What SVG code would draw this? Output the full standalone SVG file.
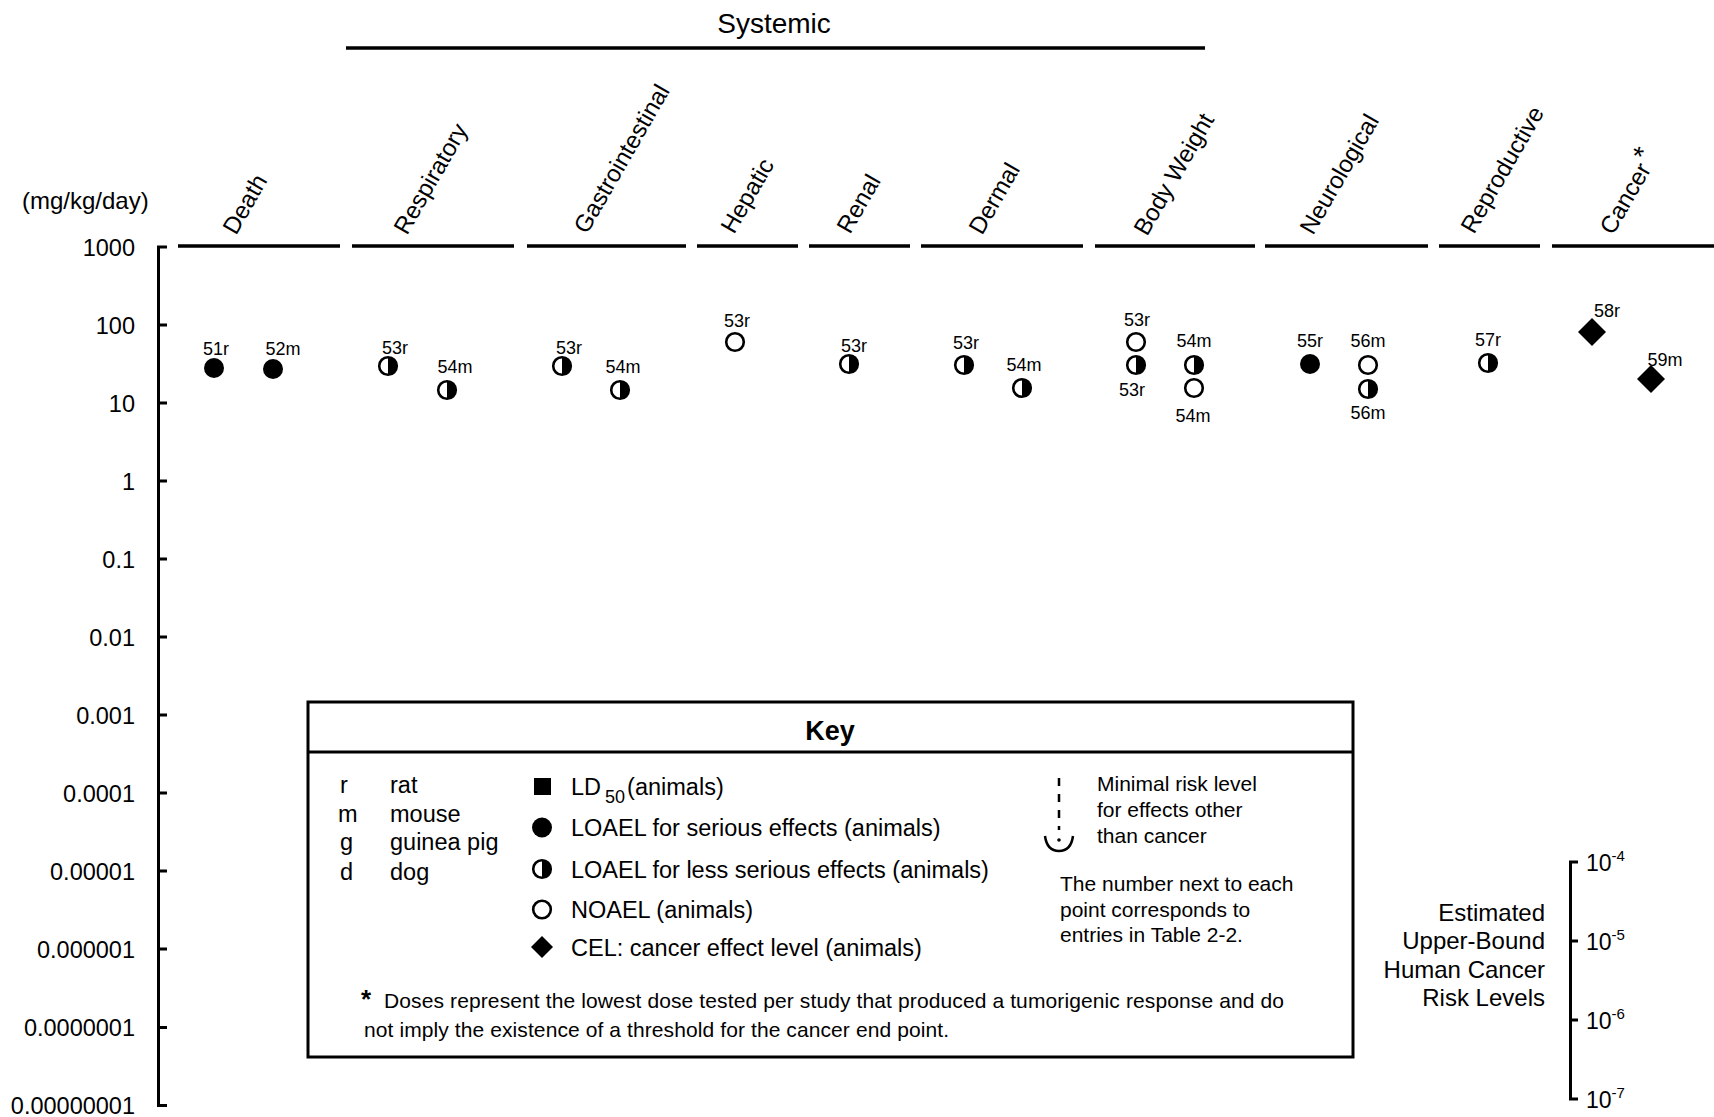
<svg xmlns="http://www.w3.org/2000/svg" xmlns:xlink="http://www.w3.org/1999/xlink" width="1714" height="1117" viewBox="0 0 1714 1117">
<style>
text{font-family:"Liberation Sans",Arial,sans-serif;fill:#000}
.tick{font-size:23.5px;text-anchor:end}
.cat{font-size:24px}
.lbl{font-size:18px;text-anchor:middle}
.key{font-size:23.5px}
.note{font-size:21px}
.ln{stroke:#000;fill:none;stroke-width:3}
.hd{stroke:#000;fill:none;stroke-width:3.5}
</style>
<defs>
<circle id="full" r="10" fill="#000"/>
<circle id="open" r="8.8" fill="#fff" stroke="#000" stroke-width="2.6"/>
<g id="half"><circle r="8.8" fill="#fff" stroke="#000" stroke-width="2.6"/><path d="M0,-8.8 A8.8,8.8 0 0 1 0,8.8 Z" fill="#000"/></g>
<path id="dia" d="M0,-14 L14,0 L0,14 L-14,0 Z" fill="#000"/>
</defs>
<rect width="1714" height="1117" fill="#fff"/>

<g id="systemic">
<text x="774" y="33" font-size="28" text-anchor="middle">Systemic</text>
<line class="hd" x1="346" y1="48" x2="1205" y2="48"/>
</g>

<g id="connectors">
<path class="ln" d="M167,247 H158.5 V1105.5 H167 M158.5,325 H167 M158.5,403 H167 M158.5,481 H167 M158.5,559 H167 M158.5,637 H167 M158.5,715 H167 M158.5,793 H167 M158.5,871 H167 M158.5,949 H167 M158.5,1027.5 H167"/>
<path class="hd" d="M178,246 H340 M352,246 H514 M527,246 H686 M697,246 H798 M809,246 H910 M921,246 H1083 M1095,246 H1255 M1265,246 H1428 M1439,246 H1540 M1552,246 H1714"/>
<path class="ln" d="M1578,862 H1570.5 V1099 H1578 M1570.5,941 H1578 M1570.5,1020 H1578"/>
</g>

<g id="yaxis-labels">
<text x="22" y="209" font-size="24">(mg/kg/day)</text>
<text class="tick" x="135" y="255.5">1000</text>
<text class="tick" x="135" y="333.5">100</text>
<text class="tick" x="135" y="411.5">10</text>
<text class="tick" x="135" y="489.5">1</text>
<text class="tick" x="135" y="567.5">0.1</text>
<text class="tick" x="135" y="645.5">0.01</text>
<text class="tick" x="135" y="723.5">0.001</text>
<text class="tick" x="135" y="801.5">0.0001</text>
<text class="tick" x="135" y="879.5">0.00001</text>
<text class="tick" x="135" y="957.5">0.000001</text>
<text class="tick" x="135" y="1036">0.0000001</text>
<text class="tick" x="135" y="1114">0.00000001</text>
</g>

<g id="categories">
<text class="cat" transform="translate(236,236) rotate(-60)">Death</text>
<text class="cat" transform="translate(407,236) rotate(-60)">Respiratory</text>
<text class="cat" transform="translate(587,235) rotate(-60)">Gastrointestinal</text>
<text class="cat" transform="translate(734,235) rotate(-60)">Hepatic</text>
<text class="cat" transform="translate(850,235) rotate(-60)">Renal</text>
<text class="cat" transform="translate(982,236) rotate(-60)">Dermal</text>
<text class="cat" transform="translate(1147,237) rotate(-60)">Body Weight</text>
<text class="cat" transform="translate(1313,236) rotate(-60)">Neurological</text>
<text class="cat" transform="translate(1474,235) rotate(-60)">Reproductive</text>
<text class="cat" transform="translate(1613,236) rotate(-60)">Cancer<tspan dy="-6" dx="3" font-size="28">*</tspan></text>
</g>

<g id="points">
<g id="p51r"><use href="#full" x="214" y="368"/><text class="lbl" x="216" y="355">51r</text></g>
<g id="p52m"><use href="#full" x="273" y="369"/><text class="lbl" x="283" y="355">52m</text></g>
<g id="p53r-resp"><use href="#half" x="388" y="366"/><text class="lbl" x="395" y="354">53r</text></g>
<g id="p54m-resp"><use href="#half" x="447" y="390"/><text class="lbl" x="455" y="373">54m</text></g>
<g id="p53r-gi"><use href="#half" x="562" y="366"/><text class="lbl" x="569" y="354">53r</text></g>
<g id="p54m-gi"><use href="#half" x="620" y="390"/><text class="lbl" x="623" y="373">54m</text></g>
<g id="p53r-hep"><use href="#open" x="735" y="342"/><text class="lbl" x="737" y="327">53r</text></g>
<g id="p53r-ren"><use href="#half" x="849" y="364"/><text class="lbl" x="854" y="352">53r</text></g>
<g id="p53r-der"><use href="#half" x="964" y="365"/><text class="lbl" x="966" y="349">53r</text></g>
<g id="p54m-der"><use href="#half" x="1022" y="388"/><text class="lbl" x="1024" y="371">54m</text></g>
<g id="p53r-bw1"><use href="#open" x="1136" y="342"/><text class="lbl" x="1137" y="326">53r</text></g>
<g id="p53r-bw2"><use href="#half" x="1136" y="365"/><text class="lbl" x="1132" y="396">53r</text></g>
<g id="p54m-bw1"><use href="#half" x="1194" y="365"/><text class="lbl" x="1194" y="347">54m</text></g>
<g id="p54m-bw2"><use href="#open" x="1194" y="388"/><text class="lbl" x="1193" y="422">54m</text></g>
<g id="p55r"><use href="#full" x="1310" y="364"/><text class="lbl" x="1310" y="347">55r</text></g>
<g id="p56m1"><use href="#open" x="1368" y="365"/><text class="lbl" x="1368" y="347">56m</text></g>
<g id="p56m2"><use href="#half" x="1368" y="389"/><text class="lbl" x="1368" y="419">56m</text></g>
<g id="p57r"><use href="#half" x="1488" y="363"/><text class="lbl" x="1488" y="346">57r</text></g>
<g id="p58r"><use href="#dia" x="1592" y="332"/><text class="lbl" x="1607" y="317">58r</text></g>
<g id="p59m"><use href="#dia" x="1651" y="379"/><text class="lbl" x="1665" y="366">59m</text></g>
</g>

<g id="key">
<rect x="308" y="702" width="1045" height="355" fill="none" stroke="#000" stroke-width="3"/>
<line x1="308" y1="752" x2="1353" y2="752" stroke="#000" stroke-width="3"/>
<text x="830" y="740" font-size="27" font-weight="bold" text-anchor="middle">Key</text>
<text class="key" x="340" y="793">r</text><text class="key" x="390" y="793">rat</text>
<text class="key" x="338" y="822">m</text><text class="key" x="390" y="822">mouse</text>
<text class="key" x="340" y="850">g</text><text class="key" x="390" y="850">guinea pig</text>
<text class="key" x="340" y="880">d</text><text class="key" x="390" y="880">dog</text>
<rect x="534" y="778" width="17" height="17" fill="#000"/>
<use href="#full" x="542" y="827.5"/>
<use href="#half" x="542" y="869"/>
<use href="#open" x="542" y="909.5"/>
<path d="M542,936 L553,947 L542,958 L531,947 Z" fill="#000"/>
<text class="key" x="571" y="795">LD<tspan font-size="18" dx="4" dy="8">50</tspan><tspan dx="2" dy="-8">(animals)</tspan></text>
<text class="key" x="571" y="836">LOAEL for serious effects (animals)</text>
<text class="key" x="571" y="878">LOAEL for less serious effects (animals)</text>
<text class="key" x="571" y="918">NOAEL (animals)</text>
<text class="key" x="571" y="956">CEL: cancer effect level (animals)</text>
<line x1="1059" y1="778" x2="1059" y2="830" stroke="#000" stroke-width="2.5" stroke-dasharray="8 8"/>
<path d="M1045,836 Q1047,851 1059,851 Q1071,851 1073,836" fill="none" stroke="#000" stroke-width="2.5"/>
<circle cx="1059" cy="840" r="1.8" fill="#000"/>
<text class="note" x="1097" y="791">Minimal risk level</text>
<text class="note" x="1097" y="817">for effects other</text>
<text class="note" x="1097" y="843">than cancer</text>
<text class="note" x="1060" y="891">The number next to each</text>
<text class="note" x="1060" y="917">point corresponds to</text>
<text class="note" x="1060" y="942">entries in Table 2-2.</text>
<text x="361" y="1008" font-size="26" font-weight="bold">*</text>
<text class="note" x="384" y="1008" textLength="900" lengthAdjust="spacing">Doses represent the lowest dose tested per study that produced a tumorigenic response and do</text>
<text class="note" x="364" y="1037" textLength="585" lengthAdjust="spacing">not imply the existence of a threshold for the cancer end point.</text>
</g>

<g id="risk-scale">
<text x="1545" y="921" font-size="24" text-anchor="end">Estimated</text>
<text x="1545" y="949" font-size="24" text-anchor="end">Upper-Bound</text>
<text x="1545" y="978" font-size="24" text-anchor="end">Human Cancer</text>
<text x="1545" y="1006" font-size="24" text-anchor="end">Risk Levels</text>
<text x="1586" y="871" font-size="23">10<tspan font-size="15" dy="-10">-4</tspan></text>
<text x="1586" y="950" font-size="23">10<tspan font-size="15" dy="-10">-5</tspan></text>
<text x="1586" y="1029" font-size="23">10<tspan font-size="15" dy="-10">-6</tspan></text>
<text x="1586" y="1108" font-size="23">10<tspan font-size="15" dy="-10">-7</tspan></text>
</g>
</svg>
